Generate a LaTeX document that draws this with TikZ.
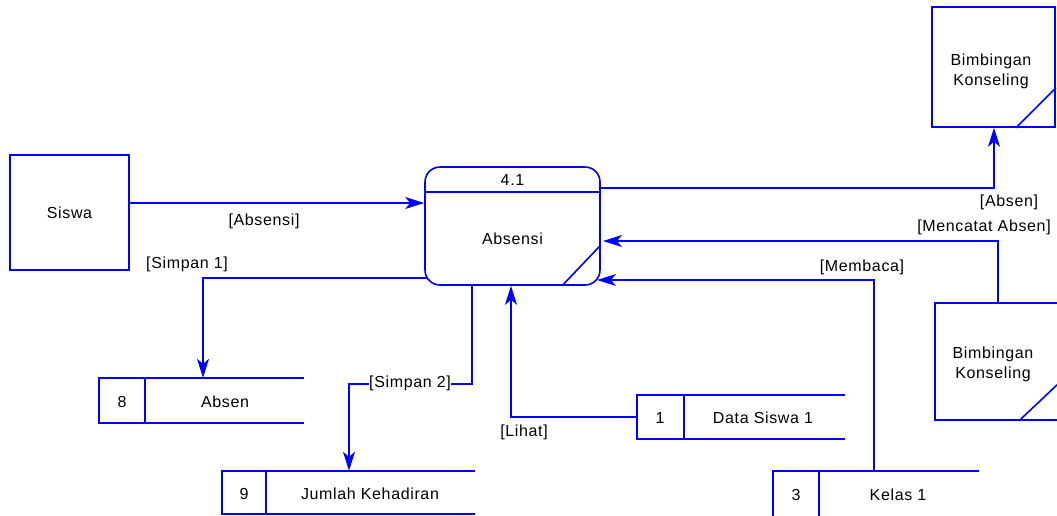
\documentclass[tikz,border=0pt]{standalone}
\usepackage{fontspec}
\setmainfont{Liberation Sans}[LetterSpace=4]
\usetikzlibrary{arrows.meta}
\definecolor{dfdblue}{RGB}{0,0,255}
\tikzset{
  shapeline/.style={draw=dfdblue, line width=1.6pt},
  entity/.style={shapeline, rectangle, inner sep=0pt},
  procbox/.style={shapeline, rectangle, rounded corners=15pt, inner sep=0pt},
  storebox/.style={rectangle, inner sep=0pt},
  txt/.style={inner sep=1pt, text=black, font=\fontsize{16}{20}\selectfont, align=center},
  flow/.style={draw=dfdblue, line width=1.6pt, -{Stealth[length=19pt,width=12pt,inset=5pt]}},
}
\begin{document}
\begin{tikzpicture}[x=1pt,y=-1pt]
\useasboundingbox (0,0) rectangle (1057,515);

% external entities
\node[entity, minimum width=119pt, minimum height=115pt] (siswa) at (69.5,212.5) {};
\node[txt] (siswaT) at (siswa.center) {Siswa};

\node[entity, minimum width=123pt, minimum height=120pt] (bk1) at (993.5,67) {};
\node[txt] (bk1T) at (991,71.5) {Bimbingan\\Konseling};
\draw[shapeline] (1016,0 |- bk1.south) -- (bk1.east |- 0,88);

\node[entity, minimum width=124pt, minimum height=117pt] (bk2) at (997,361.5) {};
\node[txt] (bk2T) at (993,364) {Bimbingan\\Konseling};
\draw[shapeline] (1019,0 |- bk2.south) -- (1059,383);

% process
\node[procbox, minimum width=175pt, minimum height=118pt] (proc) at (512.5,226) {};
\draw[shapeline] (proc.west |- 0,192) -- (proc.east |- 0,192);
\draw[shapeline] (562,0 |- proc.south) -- (proc.east |- 0,245);
\node[txt] (procId) at (512.5,180) {4.1};
\node[txt] (procT) at (512.5,239) {Absensi};

% data stores
\node[storebox, minimum width=205pt, minimum height=45pt] (ds8) at (201.5,400.5) {};
\draw[shapeline] (ds8.north east) -- (ds8.north west) -- (ds8.south west) -- (ds8.south east);
\draw[shapeline] (145,0 |- ds8.north) -- (145,0 |- ds8.south);
\node[txt] (ds8n) at (122,402) {8};
\node[txt] (ds8t) at (225,402) {Absen};

\node[storebox, minimum width=253pt, minimum height=43pt] (ds9) at (348.5,492.5) {};
\draw[shapeline] (ds9.north east) -- (ds9.north west) -- (ds9.south west) -- (ds9.south east);
\draw[shapeline] (266,0 |- ds9.north) -- (266,0 |- ds9.south);
\node[txt] (ds9n) at (244,494) {9};
\node[txt] (ds9t) at (370,494) {Jumlah Kehadiran};

\node[storebox, minimum width=208pt, minimum height=44pt] (ds1) at (741,417) {};
\draw[shapeline] (ds1.north east) -- (ds1.north west) -- (ds1.south west) -- (ds1.south east);
\draw[shapeline] (684,0 |- ds1.north) -- (684,0 |- ds1.south);
\node[txt] (ds1n) at (660,418) {1};
\node[txt] (ds1t) at (763,418) {Data Siswa 1};

\node[storebox, minimum width=206pt, minimum height=48pt] (ds3) at (876,495) {};
\draw[shapeline] (ds3.north east) -- (ds3.north west) -- (ds3.south west) -- (ds3.south east);
\draw[shapeline] (819,0 |- ds3.north) -- (819,0 |- ds3.south);
\node[txt] (ds3n) at (796,495) {3};
\node[txt] (ds3t) at (898,495) {Kelas 1};

% flows
\draw[flow] (siswa.east |- 0,203) -- (proc.west |- 0,203);
\node[txt] (lAbsensi) at (264,221) {[Absensi]};

\draw[flow] (428,278) -| (203,0 |- ds8.north);
\node[txt] (lSimpan1) at (187,264) {[Simpan 1]};

\draw[flow] (472,0 |- proc.south) |- (349,384) -- (349,0 |- ds9.north);
\node[txt, fill=white, inner sep=0.5pt] (lSimpan2) at (410,383) {[Simpan 2]};

\draw[flow] (ds1.west) -| (511,0 |- proc.south);
\node[txt] (lLihat) at (524,432) {[Lihat]};

\draw[flow] (proc.east |- 0,188) -| (994,0 |- bk1.south);
\node[txt] (lAbsen) at (1009,202) {[Absen]};

\draw[flow] (998,0 |- bk2.north) |- (603,241);
\node[txt] (lMencatat) at (984,227) {[Mencatat Absen]};

\draw[flow] (874,0 |- ds3.north) |- (597,280);
\node[txt] (lMembaca) at (862,267) {[Membaca]};
\end{tikzpicture}
\end{document}
